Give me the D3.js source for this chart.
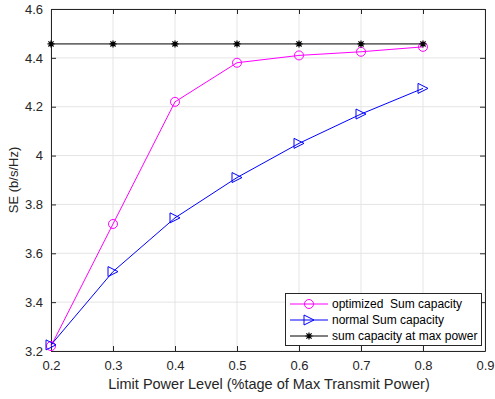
<!DOCTYPE html>
<html><head><meta charset="utf-8">
<script src="https://cdn.jsdelivr.net/npm/d3@7"></script>
<style>body{margin:0;background:#fff;}svg{display:block;font-family:"Liberation Sans",Arial,sans-serif;}</style>
</head><body>
<svg id="c" width="495" height="399"></svg>
<script>
const xValues = [0.2, 0.3, 0.4, 0.5, 0.6, 0.7, 0.8];
const optimized = [3.22, 3.72, 4.22, 4.38, 4.41, 4.425, 4.445];
const normal = [3.225, 3.525, 3.745, 3.91, 4.05, 4.17, 4.275];
const maxPower = [4.457, 4.457, 4.457, 4.457, 4.457, 4.457, 4.457];
const xTicks = [0.2, 0.3, 0.4, 0.5, 0.6, 0.7, 0.8, 0.9];
const yTicks = [3.2, 3.4, 3.6, 3.8, 4, 4.2, 4.4, 4.6];
const seriesNames = ["optimized  Sum capacity", "normal Sum capacity", "sum capacity at max power"];

const svg = d3.select("#c");
const L = 51, R = 485, T = 9, B = 351;
const x = d3.scaleLinear().domain([0.2, 0.9]).range([L, R]);
const y = d3.scaleLinear().domain([3.2, 4.6]).range([B, T]);
const axisCol = "#262626";

// grid
svg.append("g").selectAll("line").data(xTicks).join("line")
  .attr("x1", d => x(d)).attr("x2", d => x(d)).attr("y1", T).attr("y2", B)
  .attr("stroke", "#e5e5e5").attr("stroke-width", 1);
svg.append("g").selectAll("line").data(yTicks).join("line")
  .attr("y1", d => y(d)).attr("y2", d => y(d)).attr("x1", L).attr("x2", R)
  .attr("stroke", "#e5e5e5").attr("stroke-width", 1);

// axes
const fmt = d => d3.format("")(+d.toFixed(1));
const gx = svg.append("g").attr("transform", `translate(0,${B})`)
  .call(d3.axisBottom(x).tickValues(xTicks).tickFormat(fmt).tickSizeInner(-5).tickSizeOuter(0).tickPadding(10));
const gy = svg.append("g").attr("transform", `translate(${L},0)`)
  .call(d3.axisLeft(y).tickValues(yTicks).tickFormat(fmt).tickSizeInner(-5).tickSizeOuter(0).tickPadding(8));
const gxt = svg.append("g").attr("transform", `translate(0,${T})`)
  .call(d3.axisTop(x).tickValues(xTicks).tickFormat("").tickSizeInner(-5).tickSizeOuter(0));
const gyr = svg.append("g").attr("transform", `translate(${R},0)`)
  .call(d3.axisRight(y).tickValues(yTicks).tickFormat("").tickSizeInner(-5).tickSizeOuter(0));
[gx, gy, gxt, gyr].forEach(g => {
  g.select(".domain").attr("stroke", axisCol);
  g.selectAll(".tick line").attr("stroke", axisCol);
  g.selectAll("text").attr("fill", axisCol).attr("font-size", 13).attr("font-family", "Liberation Sans, Arial, sans-serif");
});

// labels
svg.append("text").attr("x", (L + R) / 2 + 1).attr("y", 389).attr("text-anchor", "middle")
  .attr("font-size", 14.5).attr("fill", axisCol).text("Limit Power Level (%tage of Max Transmit Power)");
svg.append("text").attr("transform", `translate(18,${(T + B) / 2}) rotate(-90)`).attr("text-anchor", "middle")
  .attr("font-size", 13).attr("fill", axisCol).text("SE (b/s/Hz)");

const line = d3.line().x(d => x(d[0])).y(d => y(d[1]));
const zip = arr => xValues.map((v, i) => [v, arr[i]]);

svg.append("path").datum(zip(maxPower)).attr("d", line).attr("fill", "none").attr("stroke", "#000").attr("stroke-width", 1);
svg.append("path").datum(zip(optimized)).attr("d", line).attr("fill", "none").attr("stroke", "#ff00ff").attr("stroke-width", 1);
svg.append("path").datum(zip(normal)).attr("d", line).attr("fill", "none").attr("stroke", "#0000ff").attr("stroke-width", 1);

function circle(g, cx, cy) {
  g.append("circle").attr("cx", cx).attr("cy", cy).attr("r", 4.5).attr("fill", "none").attr("stroke", "#ff00ff").attr("stroke-width", 1);
}
function tri(g, cx, cy) {
  const s = 5;
  g.append("path").attr("d", `M${cx - s},${cy - s}L${cx + s},${cy}L${cx - s},${cy + s}Z`)
    .attr("fill", "none").attr("stroke", "#0000ff").attr("stroke-width", 1);
}
function star(g, cx, cy) {
  const s = 3.5, d = 2.6;
  g.append("path").attr("d", `M${cx - s},${cy}L${cx + s},${cy}M${cx},${cy - s}L${cx},${cy + s}M${cx - d},${cy - d}L${cx + d},${cy + d}M${cx - d},${cy + d}L${cx + d},${cy - d}`)
    .attr("stroke", "#000").attr("stroke-width", 1.2);
}
const gm = svg.append("g");
zip(optimized).forEach(d => circle(gm, x(d[0]), y(d[1])));
zip(normal).forEach(d => tri(gm, x(d[0]), y(d[1])));
zip(maxPower).forEach(d => star(gm, x(d[0]), y(d[1])));

// legend
const lg = svg.append("g");
lg.append("rect").attr("x", 285.5).attr("y", 293.5).attr("width", 196).attr("height", 52)
  .attr("fill", "#fff").attr("stroke", axisCol).attr("stroke-width", 1);
const rows = [304, 320, 336];
const cols = ["#ff00ff", "#0000ff", "#000"];
const markers = [circle, tri, star];
seriesNames.forEach((n, i) => {
  lg.append("line").attr("x1", 290).attr("x2", 328).attr("y1", rows[i]).attr("y2", rows[i]).attr("stroke", cols[i]).attr("stroke-width", 1);
  markers[i](lg, 309, rows[i]);
  lg.append("text").attr("x", 332).attr("y", rows[i] + 4).attr("font-size", 12).attr("fill", "#000")
    .style("white-space", "pre").attr("xml:space", "preserve").text(n);
});
</script>
</body></html>
